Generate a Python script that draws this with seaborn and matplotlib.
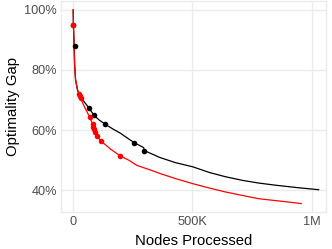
import numpy as np
import pandas as pd
import seaborn as sns
import matplotlib.pyplot as plt
from matplotlib.ticker import FuncFormatter

# curves (nodes processed, gap in %)
black_nodes = [2e3, 3e3, 6e3, 8e3, 12e3, 20e3, 33e3, 50e3, 68e3, 88e3, 110e3, 137e3, 170e3,
               199e3, 230e3, 258e3, 285e3, 297e3, 300e3, 365e3, 430e3, 503e3, 573e3, 640e3,
               711e3, 780e3, 849e3, 940e3, 1030e3]
black_gap = [100, 95, 88, 81.7, 76.7, 73.3, 71.1, 69.2, 67.4, 65.0, 63.4, 61.9, 60.3,
             59.0, 57.3, 55.8, 54.7, 54.2, 53.2, 50.9, 49.2, 47.8, 45.9, 44.5,
             43.3, 42.4, 41.7, 40.9, 40.2]

red_nodes = [2e3, 3e3, 6e3, 8e3, 12e3, 20e3, 26e3, 30e3, 33e3, 50e3, 72e3, 83e3, 86e3,
             90e3, 93e3, 102e3, 119e3, 160e3, 200e3, 235e3, 268e3, 320e3, 365e3, 430e3,
             503e3, 570e3, 642e3, 710e3, 780e3, 870e3, 957e3]
red_gap = [100, 95, 88, 81.7, 76.7, 73.5, 72.0, 71.3, 70.6, 67.6, 64.2, 62.0, 61.0,
           60.5, 59.5, 58.0, 56.3, 53.6, 51.4, 50.0, 48.3, 46.9, 45.6, 43.9,
           42.2, 40.8, 39.4, 38.3, 37.2, 36.4, 35.6]

# highlighted points
black_pt_nodes = [3e3, 8e3, 68e3, 88e3, 137e3, 258e3, 297e3]
black_pt_gap = [95, 88, 67.4, 65.0, 61.9, 55.8, 53.2]
red_pt_nodes = [3e3, 26e3, 30e3, 33e3, 72e3, 83e3, 86e3, 90e3, 93e3, 102e3, 119e3, 200e3]
red_pt_gap = [95, 72.0, 71.3, 70.6, 64.2, 62.0, 61.0, 60.5, 59.5, 58.0, 56.3, 51.4]

sns.set_style('white')
plt.rcParams['font.family'] = ['Liberation Sans', 'DejaVu Sans']

fig = plt.figure(figsize=(3.32, 2.49), dpi=100)
ax = fig.add_axes([61 / 332, 37 / 249, 265 / 332, 211 / 249])

grid_col = '#EBEBEB'
for s in ax.spines.values():
    s.set_color(grid_col)
    s.set_linewidth(1.0)
ax.grid(True, color=grid_col, linewidth=1.0)
ax.set_axisbelow(True)

sns.lineplot(x=black_nodes, y=black_gap, color='black', lw=0.9, ax=ax,
             sort=False, estimator=None)
sns.scatterplot(x=black_pt_nodes, y=black_pt_gap, color='black', s=16,
                linewidth=0, ax=ax, zorder=3)
sns.lineplot(x=red_nodes, y=red_gap, color='red', lw=0.9, ax=ax,
             sort=False, estimator=None)
sns.scatterplot(x=red_pt_nodes, y=red_pt_gap, color='red', s=16,
                linewidth=0, ax=ax, zorder=3)

ax.set_xlim(-49e3, 1060e3)
ax.set_ylim(32.8, 102.9)
ax.set_xticks([0, 500e3, 1e6])
ax.set_xticklabels(['0', '500K', '1M'])
ax.set_yticks([40, 60, 80, 100])
ax.yaxis.set_major_formatter(FuncFormatter(lambda v, p: f'{v:.0f}%'))
ax.tick_params(axis='both', length=0, labelsize=9.2, colors='#4D4D4D', pad=3)

ax.set_xlabel('Nodes Processed', fontsize=10.7, color='black', labelpad=4.5)
ax.set_ylabel('Optimality Gap', fontsize=10.7, color='black', labelpad=3)

plt.savefig('out.png', dpi=100)
